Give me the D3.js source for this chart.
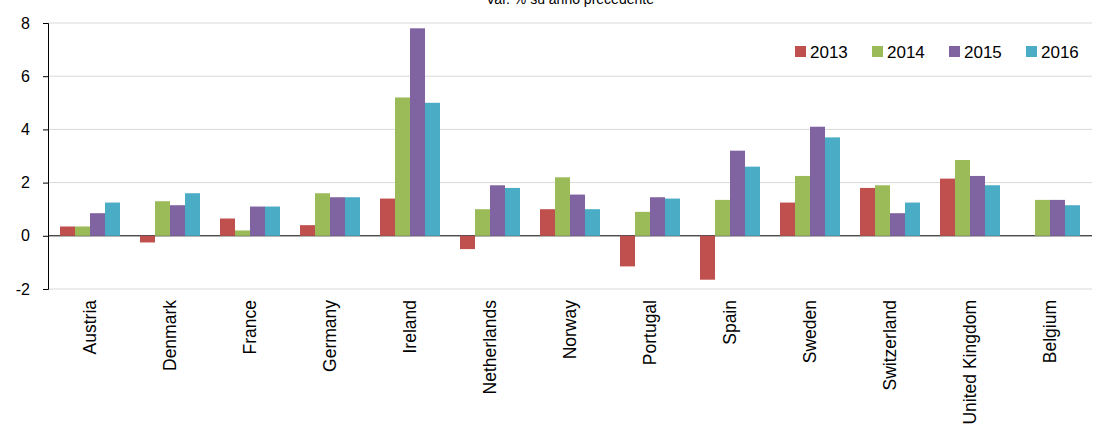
<!DOCTYPE html>
<html><head><meta charset="utf-8">
<script src="https://cdn.jsdelivr.net/npm/d3@7"></script>
<style>body{margin:0;background:#fff}text{font-family:"Liberation Sans",Arial,sans-serif}</style>
</head><body><svg id="c" width="1096" height="436"></svg>
<script>
const countries = ["Austria","Denmark","France","Germany","Ireland","Netherlands","Norway","Portugal","Spain","Sweden","Switzerland","United Kingdom","Belgium"];
const years = ["2013","2014","2015","2016"];
const colors = ["#c0504d","#9bbb59","#8064a2","#4bacc6"];
const v2013 = [0.35,-0.25,0.65,0.4,1.4,-0.5,1.0,-1.15,-1.65,1.25,1.8,2.15,null];
const v2014 = [0.35,1.3,0.2,1.6,5.2,1.0,2.2,0.9,1.35,2.25,1.9,2.85,1.35];
const v2015 = [0.85,1.15,1.1,1.45,7.8,1.9,1.55,1.45,3.2,4.1,0.85,2.25,1.35];
const v2016 = [1.25,1.6,1.1,1.45,5.0,1.8,1.0,1.4,2.6,3.7,1.25,1.9,1.15];
const yTicks = [-2,0,2,4,6,8];
const series = [v2013,v2014,v2015,v2016];

const svg = d3.select('#c');
const y = d3.scaleLinear().domain([-2,8]).range([289,23]);
const x = d3.scaleBand().domain(countries).range([48,1092]).paddingInner(0.25).paddingOuter(0.15);
const xs = d3.scaleBand().domain(years).range([0,x.bandwidth()]);

svg.append('text').attr('x',570).attr('y',4).attr('text-anchor','middle').attr('font-size',14).text('Var. % su anno precedente');

// gridlines
svg.append('g').selectAll('line').data(yTicks).enter().append('line')
  .attr('x1',48).attr('x2',1092).attr('y1',d=>y(d)).attr('y2',d=>y(d))
  .attr('stroke',d=>d===0?'#000':'#d9d9d9').attr('stroke-width',1);

const yAxis = svg.append('g').attr('transform','translate(48,0)')
  .call(d3.axisLeft(y).tickValues(yTicks).tickSize(5).tickFormat(d=>String(d)));
yAxis.selectAll('text').attr('font-size',16).attr('fill','#000').attr('x',-18).style('font-family','"Liberation Sans",Arial');
yAxis.select('.domain').attr('stroke','#000');

series.forEach((vals,si)=>{
  svg.append('g').selectAll('rect').data(countries.map((c,i)=>({c,v:vals[i]})).filter(d=>d.v!=null))
    .enter().append('rect')
    .attr('x',d=>x(d.c)+xs(years[si]))
    .attr('width',xs.bandwidth())
    .attr('y',d=>y(Math.max(0,d.v)))
    .attr('height',d=>Math.abs(y(d.v)-y(0)))
    .attr('fill',colors[si]);
});

// category labels
svg.append('g').selectAll('text').data(countries).enter().append('text')
  .attr('transform',d=>`translate(${x(d)+x.bandwidth()/2+6},300) rotate(-90)`)
  .attr('text-anchor','end').attr('font-size',17.5).text(d=>d);

// legend
const lg = svg.append('g').selectAll('g').data(years).enter().append('g')
  .attr('transform',(d,i)=>`translate(${795+i*77},46)`);
lg.append('rect').attr('width',11).attr('height',11).attr('fill',(d,i)=>colors[i]);
lg.append('text').attr('x',15).attr('y',12).attr('font-size',17).text(d=>d);
</script></body></html>
